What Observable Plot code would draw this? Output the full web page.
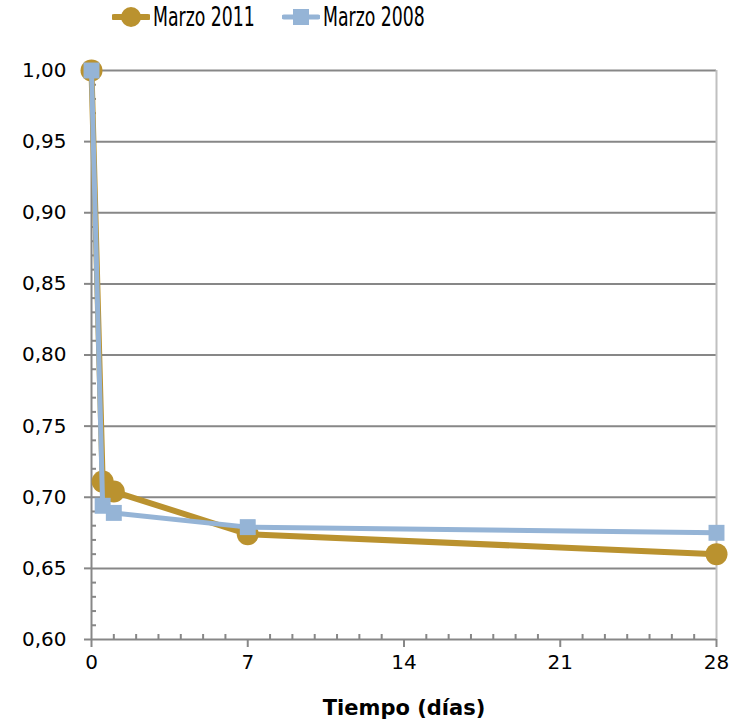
<!DOCTYPE html>
<html>
<head>
<meta charset="utf-8">
<script src="https://cdn.jsdelivr.net/npm/d3@7"></script>
<script src="https://cdn.jsdelivr.net/npm/@observablehq/plot@0.6"></script>
<style>
  body { margin: 0; background: #fff; }
  #wrap { width: 747px; position: relative; }
  #legend { position: relative; height: 40px; width: 747px; font-family: "DejaVu Sans Condensed", "Liberation Sans Narrow", sans-serif; font-size: 26px; color: #000; }
  .item { position: absolute; top: 2px; display: flex; align-items: center; height: 30px; }
  .item svg { display: block; }
  .item span { margin-left: 3px; display: inline-block; transform: scaleX(0.74); transform-origin: left center; white-space: nowrap; }
</style>
</head>
<body>
<div id="wrap">
  <div id="legend"></div>
  <div id="chart"></div>
</div>
<script>
const seriesNames = ["Marzo 2011", "Marzo 2008"];
const seriesColors = ["#BA922F", "#95B4D6"];
const days2011 = [0, 0.5, 1, 7, 28];
const values2011 = [1.00, 0.711, 0.704, 0.674, 0.660];
const days2008 = [0, 0.5, 1, 7, 28];
const values2008 = [1.00, 0.694, 0.689, 0.679, 0.675];
const xTicks = [0, 7, 14, 21, 28];
const yTicks = [0.60, 0.65, 0.70, 0.75, 0.80, 0.85, 0.90, 0.95, 1.00];
const xMinor = d3.range(1, 28).filter(d => d % 7 !== 0);
const yMinor = d3.range(61, 100).filter(d => d % 5 !== 0).map(d => d / 100);
const xLabel = "Tiempo (días)";

const rows2011 = days2011.map((d, i) => ({day: d, value: values2011[i]}));
const rows2008 = days2008.map((d, i) => ({day: d, value: values2008[i]}));

const gray = "#878787";
const fmt = d => d3.format(".2f")(d).replace(".", ",");

// legend
const legend = document.getElementById("legend");
const lefts = [112, 282];
seriesNames.forEach((name, i) => {
  const item = document.createElement("div");
  item.className = "item";
  item.style.left = lefts[i] + "px";
  const sw = i === 0
    ? `<svg width="38" height="24"><line x1="2" y1="12" x2="36" y2="12" stroke="${seriesColors[0]}" stroke-width="6" stroke-linecap="round"/><circle cx="19" cy="12" r="10" fill="${seriesColors[0]}"/></svg>`
    : `<svg width="38" height="24"><line x1="2" y1="12" x2="36" y2="12" stroke="${seriesColors[1]}" stroke-width="5" stroke-linecap="round"/><rect x="11" y="4" width="16" height="16" fill="${seriesColors[1]}"/></svg>`;
  item.innerHTML = sw + `<span>${name}</span>`;
  legend.appendChild(item);
});

const chart = Plot.plot({
  width: 747,
  height: 684,
  marginTop: 30,
  marginBottom: 85,
  marginLeft: 91,
  marginRight: 31,
  x: {domain: [0, 28]},
  y: {domain: [0.6, 1.0]},
  style: {fontFamily: "DejaVu Sans, sans-serif", fontSize: "20px", color: "#000", background: "#fff", overflow: "visible"},
  marks: [
    Plot.gridY(yTicks.filter(d => d > 0.6), {stroke: gray, strokeOpacity: 1, strokeWidth: 2}),
    Plot.ruleX([28], {stroke: "#C0C0C0", strokeWidth: 2}),
    Plot.ruleY([0.6], {stroke: gray, strokeWidth: 2}),
    Plot.ruleX([0], {stroke: gray, strokeWidth: 2}),
    Plot.axisY(yMinor, {anchor: "left", tickSize: 5, dx: 5, tickFormat: () => "", label: null, stroke: gray, strokeWidth: 2}),
    Plot.axisY(yTicks, {anchor: "left", tickSize: 7, tickPadding: 18, tickFormat: fmt, label: null, stroke: gray, strokeWidth: 2, fill: "#000"}),
    Plot.axisX(xMinor, {anchor: "bottom", tickSize: 5, dy: -5, tickFormat: () => "", label: null, stroke: gray, strokeWidth: 2}),
    Plot.axisX(xTicks, {anchor: "bottom", tickSize: 8, tickPadding: 7, label: null, stroke: gray, strokeWidth: 2, fill: "#000"}),
    Plot.text([xLabel], {frameAnchor: "bottom", dy: 75, fontWeight: "bold", fontSize: 21, fill: "#000"}),
    Plot.line(rows2011, {x: "day", y: "value", stroke: seriesColors[0], strokeWidth: 6}),
    Plot.dot(rows2011, {x: "day", y: "value", r: 11, fill: seriesColors[0], symbol: "circle"}),
    Plot.line(rows2008, {x: "day", y: "value", stroke: seriesColors[1], strokeWidth: 5}),
    Plot.dot(rows2008, {x: "day", y: "value", r: 9, fill: seriesColors[1], symbol: "square"})
  ]
});
document.getElementById("chart").appendChild(chart);
</script>
</body>
</html>
